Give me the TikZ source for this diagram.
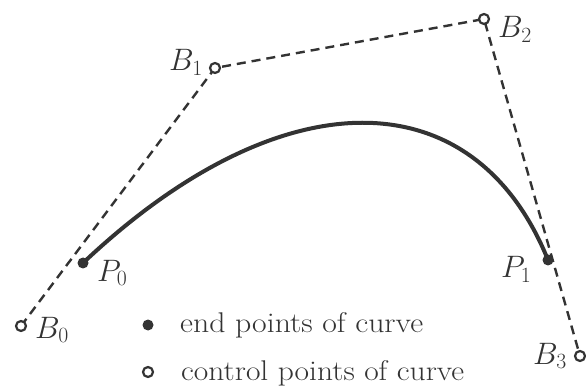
\RequirePackage{fix-cm}
\documentclass[tikz,border=0pt]{standalone}
\usepackage{fontspec}
\usepackage{graphicx}
\usetikzlibrary{calc}
\begin{document}
\begin{tikzpicture}[x=1pt,y=-1pt,
  ctrlpt/.style={circle,draw=black!80,fill=white,line width=2.2pt,minimum size=10pt,inner sep=0pt},
  endpt/.style={circle,fill=black!80,minimum size=11pt,inner sep=0pt},
  polyline/.style={draw=black!80,line width=2.4pt,dash pattern=on 9pt off 6pt},
  curveline/.style={draw=black!80,line width=4pt},
  lbl/.style={anchor=base west,inner sep=0pt,text=black!80,font=\fontsize{28.5}{34}\selectfont},
  ptlbl/.style={lbl,font=\fontsize{31}{36}\selectfont}]
\useasboundingbox (0,0) rectangle (586,387);
% control polygon
\coordinate (b0) at (21,326);
\coordinate (b1) at (215,68);
\coordinate (b2) at (484,19);
\coordinate (b3) at (580,356);
\draw[polyline] (b0) -- (b1) -- (b2) -- (b3);
% curve
\coordinate (p0) at (83,263);
\coordinate (p1) at (548,260);
\draw[curveline] (p0) .. controls (281,76) and (474,77) .. (p1);
% points
\node[ctrlpt] (B0) at (b0) {};
\node[ctrlpt] (B1) at (b1) {};
\node[ctrlpt] (B2) at (b2) {};
\node[ctrlpt] (B3) at (b3) {};
\node[endpt] (P0) at (p0) {};
\node[endpt] (P1) at (p1) {};
% labels
\node[ptlbl] (lB0) at (35,338) {$B_0$};
\node[ptlbl] (lP0) at (97,281) {$P_0$};
\node[ptlbl] (lB1) at (169,71) {$B_1$};
\node[ptlbl] (lB2) at (498,38) {$B_2$};
\node[ptlbl] (lP1) at (501,278) {$P_1$};
\node[ptlbl] (lB3) at (533,364) {$B_3$};
% legend
\node[endpt] (legE) at (148,325) {};
\node[ctrlpt] (legC) at (148,372) {};
\node[lbl] (tE) at (180,332) {\resizebox{243pt}{\height}{end points of curve}};
\node[lbl] (tC) at (181,380) {\resizebox{283pt}{\height}{control points of curve}};
\end{tikzpicture}
\end{document}
